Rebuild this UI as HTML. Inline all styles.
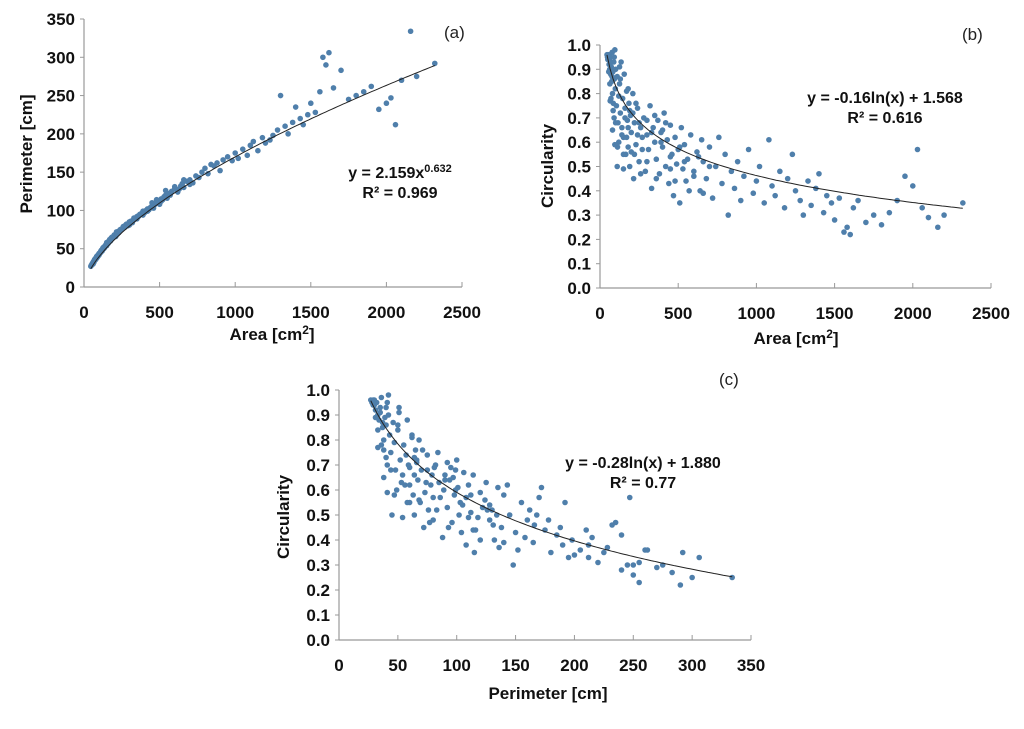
<!DOCTYPE html>
<html><head><meta charset="utf-8"><style>
body{margin:0;background:#fff}
svg text{font-family:"Liberation Sans",Arial,sans-serif}
</style></head><body>
<svg id="s" width="1024" height="724" xmlns="http://www.w3.org/2000/svg"></svg>
<script>
const areas=[45,48,52,55,58,60,62,65,68,70,
72,75,78,80,82,85,88,90,92,95,
98,100,105,110,115,120,125,130,135,140,
145,150,155,160,165,170,175,180,185,190,
195,200,210,215,220,230,240,250,260,270,
280,290,300,310,320,330,340,350,360,370,
380,390,400,410,420,430,440,450,460,470,
480,490,500,510,520,530,540,550,560,580,
600,620,640,650,660,680,700,720,740,760,
780,800,820,840,860,880,900,920,950,980,
1000,1020,1050,1080,1100,1120,1150,1180,1200,1230,
1250,1280,1300,1330,1350,1380,1400,1430,1450,1480,
1500,1530,1560,1580,1600,1620,1650,1700,1750,1800,
1850,1900,1950,2000,2030,2060,2100,2160,2200,2320,
50,56,63,70,77,84,91,100,112,125,
140,160,180,200,230,260,300,350,400,450,
120,150,180,210,240,270,300,330,360,390,
420,450,480,510,540,570,600,630,660,700,
65,80,95,110,130,150,170,190,220,250];
const perimeters=[27,28,29,30,31,30,33,32,34,35,
35,37,36,38,39,38,40,41,40,42,
43,42,44,46,48,47,50,52,51,54,
55,56,58,57,60,62,60,63,65,64,
66,67,68,72,70,73,75,76,79,78,
82,80,85,86,84,88,90,89,92,95,
96,94,98,100,102,101,104,106,103,108,
110,112,108,115,114,118,120,116,122,125,
128,124,132,135,130,138,140,136,145,143,
150,155,148,160,158,162,152,166,170,165,
175,168,180,172,185,190,178,195,188,192,
198,205,250,210,200,215,235,220,212,225,
240,228,255,300,290,306,260,283,245,250,
255,262,232,240,247,212,270,334,275,292,
29,31,33,36,37,40,41,44,47,51,
53,59,62,68,71,77,83,92,97,105,
49,58,64,66,74,80,81,90,93,99,
99,110,114,112,126,120,131,128,140,134,
33,38,41,45,50,54,60,64,69,75];
const circularities=[0.96,0.95,0.96,0.94,0.92,0.96,0.90,0.95,0.88,0.93,
0.91,0.85,0.97,0.80,0.89,0.76,0.93,0.70,0.86,0.98,
0.82,0.90,0.75,0.87,0.68,0.79,0.84,0.72,0.93,0.66,
0.78,0.62,0.88,0.74,0.55,0.81,0.69,0.58,0.76,0.50,
0.71,0.64,0.80,0.45,0.68,0.59,0.74,0.52,0.66,0.62,
0.70,0.48,0.63,0.57,0.75,0.41,0.66,0.60,0.53,0.69,
0.47,0.64,0.58,0.72,0.50,0.61,0.43,0.67,0.55,0.38,
0.62,0.51,0.57,0.35,0.66,0.49,0.59,0.44,0.53,0.63,
0.48,0.56,0.40,0.61,0.52,0.45,0.58,0.37,0.50,0.62,
0.43,0.55,0.30,0.48,0.41,0.52,0.36,0.46,0.57,0.39,
0.44,0.50,0.35,0.61,0.42,0.38,0.48,0.33,0.45,0.55,
0.40,0.36,0.30,0.44,0.34,0.41,0.47,0.31,0.38,0.35,
0.28,0.37,0.23,0.25,0.22,0.33,0.36,0.27,0.30,0.26,
0.31,0.36,0.46,0.42,0.57,0.33,0.29,0.25,0.30,0.35,
0.94,0.89,0.84,0.78,0.87,0.73,0.95,0.68,0.58,0.91,
0.63,0.70,0.82,0.56,0.76,0.47,0.52,0.71,0.65,0.54,
0.60,0.55,0.66,0.72,0.63,0.57,0.69,0.64,0.45,0.60,
0.68,0.49,0.44,0.58,0.52,0.40,0.46,0.54,0.39,0.50,
0.77,0.65,0.59,0.50,0.86,0.49,0.62,0.73,0.55,0.68];
const areaTicks=[0,500,1000,1500,2000,2500];
const perimTicksA=[0,50,100,150,200,250,300,350];
const perimTicksC=[0,50,100,150,200,250,300,350];
const circTicks=[0,0.1,0.2,0.3,0.4,0.5,0.6,0.7,0.8,0.9,1.0];
const fitA=[2.159,0.632], fitB=[-0.16,1.568], fitC=[-0.28,1.880];

const S=document.getElementById('s');const NS='http://www.w3.org/2000/svg';
function mk(t,a,p){const e=document.createElementNS(NS,t);for(const k in a)e.setAttribute(k,a[k]);(p||S).appendChild(e);return e;}
function chart(o){
  const g=mk('g',{});
  
  
  const X=v=>o.x0+(v-o.xmin)/(o.xmax-o.xmin)*(o.x1-o.x0);
  const Y=v=>o.y0-(v-o.ymin)/(o.ymax-o.ymin)*(o.y0-o.y1);
  const ax=mk('line',{x1:o.x0,y1:o.y0,x2:o.x1,y2:o.y0,stroke:'#999','stroke-width':1.2},g);
  
  const ay=mk('line',{x1:o.x0,y1:o.y0,x2:o.x0,y2:o.y1,stroke:'#999','stroke-width':1.2},g);
  
  o.xt.forEach(v=>{mk('line',{x1:X(v),x2:X(v),y1:o.y0,y2:o.y0-5,stroke:'#999'},g);
    const t=mk('text',{x:X(v),y:o.y0+31,'text-anchor':'middle','font-size':17,'font-weight':'bold',fill:'#111'},g);t.textContent=v;
    });
  o.yt.forEach(v=>{mk('line',{x1:o.x0-4,x2:o.x0,y1:Y(v),y2:Y(v),stroke:'#999'},g);
    const t=mk('text',{x:o.x0-9,y:Y(v)+6,'text-anchor':'end','font-size':17,'font-weight':'bold',fill:'#111'},g);t.textContent=o.yfmt(v);
    });
  o.xs.forEach((xv,i)=>{const c=mk('circle',{cx:X(xv),cy:Y(o.ys[i]),r:2.8,fill:'#4f7fab'},g);
    });
  let d='';for(let k=0;k<=120;k++){const xv=o.fx0+(o.fx1-o.fx0)*k/120;d+=(k?'L':'M')+X(xv).toFixed(1)+','+Y(o.f(xv)).toFixed(1);}
  const tl=mk('path',{d:d,fill:'none',stroke:'#222','stroke-width':1},g);
  
  const xt=mk('text',{x:o.xtx,y:o.xty,'text-anchor':'middle','font-size':17,'font-weight':'bold',fill:'#111'},g);xt.innerHTML=o.xtitle;
  
  const yt=mk('text',{x:0,y:0,'text-anchor':'middle','font-size':17,'font-weight':'bold',fill:'#111',transform:`translate(${o.ytx},${o.yty}) rotate(-90)`},g);yt.textContent=o.ytitle;
  
  const pl=mk('text',{x:o.plx,y:o.ply,'font-size':17,fill:'#222'},g);pl.textContent=o.panel;
  
  const e1=mk('text',{x:o.ex,y:o.ey,'text-anchor':'middle','font-size':16,'font-weight':'bold',fill:'#111'},g);e1.innerHTML=o.eq;
  
  const e2=mk('text',{x:o.ex,y:o.ey+20,'text-anchor':'middle','font-size':16,'font-weight':'bold',fill:'#111'},g);e2.textContent=o.r2;
  
}
const f1=v=>v.toFixed(1);
chart({name:'chart-a',x0:84,x1:462,y0:287,y1:19,xmin:0,xmax:2500,ymin:0,ymax:350,xt:areaTicks,yt:perimTicksA,yfmt:v=>v,
 xs:areas,ys:perimeters,f:x=>fitA[0]*Math.pow(x,fitA[1]),fx0:45,fx1:2320,
 xtitle:'Area [cm<tspan font-size="12" dy="-6">2</tspan><tspan dy="6">]</tspan>',xtx:272,xty:340,ytitle:'Perimeter [cm]',ytx:32,yty:154,
 panel:'(a)',plx:444,ply:38,eq:'y = 2.159x<tspan font-size="11" dy="-6">0.632</tspan>',r2:'R² = 0.969',ex:400,ey:178});
chart({name:'chart-b',x0:600,x1:991,y0:288,y1:45,xmin:0,xmax:2500,ymin:0,ymax:1,xt:areaTicks,yt:circTicks,yfmt:f1,
 xs:areas,ys:circularities,f:x=>fitB[0]*Math.log(x)+fitB[1],fx0:45,fx1:2320,
 xtitle:'Area [cm<tspan font-size="12" dy="-6">2</tspan><tspan dy="6">]</tspan>',xtx:796,xty:344,ytitle:'Circularity',ytx:553,yty:166,
 panel:'(b)',plx:962,ply:40,eq:'y = -0.16ln(x) + 1.568',r2:'R² = 0.616',ex:885,ey:103});
chart({name:'chart-c',x0:339,x1:751,y0:640,y1:390,xmin:0,xmax:350,ymin:0,ymax:1,xt:perimTicksC,yt:circTicks,yfmt:f1,
 xs:perimeters,ys:circularities,f:x=>fitC[0]*Math.log(x)+fitC[1],fx0:27,fx1:334,
 xtitle:'Perimeter [cm]',xtx:548,xty:699,ytitle:'Circularity',ytx:289,yty:517,
 panel:'(c)',plx:719,ply:385,eq:'y = -0.28ln(x) + 1.880',r2:'R² = 0.77',ex:643,ey:468});
</script>
</body></html>
